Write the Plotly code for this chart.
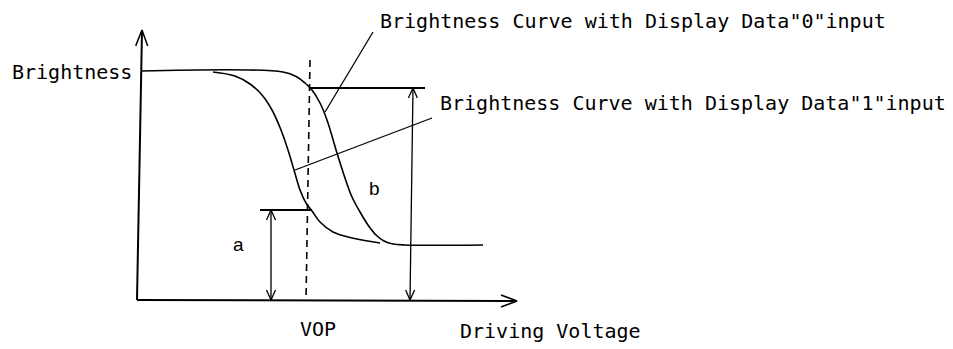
import plotly.graph_objects as go
import numpy as np

# diagram units: x to the right, y downward (0..953, 0..349)
curve0_x = [141, 283, 297, 305, 312, 320, 327, 337, 345, 352, 360, 368, 376, 384, 393, 405, 483]
curve0_y = [71, 72, 77, 83, 90, 103, 120, 153, 178, 197, 212, 225, 235, 241, 244, 245, 245]

curve1_x = [213, 235, 250, 262, 272, 281, 288, 294, 300, 306, 312, 320, 333, 352, 380]
curve1_y = [72, 76, 84, 95, 110, 130, 150, 170, 190, 203, 211, 222, 232, 238, 243]

yaxis_line = [(137, 300), (142, 30)]
xaxis_line = [(137, 300), (517, 301)]
vop_line = [(310, 60), (306, 300)]
level_b = [(310, 88), (425, 88)]
level_a = [(260, 210), (312, 210)]
arrow_a = [(271, 210), (271, 300)]
arrow_b = [(413, 88), (410, 300)]
leader0 = [(325, 112), (373, 32)]
leader1 = [(295, 170), (432, 118)]

labels = [
    ('Brightness', 133, 72, 'right'),
    ('Brightness Curve with Display Data"0"input', 379, 20.5, 'left'),
    ('Brightness Curve with Display Data"1"input', 439, 103, 'left'),
    ('VOP', 318, 329, 'center'),
    ('Driving Voltage', 459, 331, 'left'),
]
letters = [('a', 238, 244), ('b', 374, 188)]

PAGE_PAD = 8  # default body margin of the html page


def head(tip, tail, size=10, half=4.5):
    t = np.array(tip, float)
    d = np.array(tail, float) - t
    d /= np.linalg.norm(d)
    n = np.array([-d[1], d[0]])
    p1 = t + size * d + half * n
    p2 = t + size * d - half * n
    return [p1[0], t[0], p2[0], None], [p1[1], t[1], p2[1], None]


def seg(pts):
    return [p[0] for p in pts] + [None], [p[1] for p in pts] + [None]


def main():
    fig = go.Figure()
    black = 'black'

    # axes
    for pts in (yaxis_line, xaxis_line):
        x, y = seg(pts)
        fig.add_trace(go.Scatter(x=x, y=y, mode='lines', line=dict(color=black, width=2)))
    hx, hy = [], []
    for tip, tail in [(yaxis_line[1], yaxis_line[0]), (xaxis_line[1], xaxis_line[0])]:
        a, b = head(tip, tail, size=16, half=6)
        hx += a
        hy += b
    fig.add_trace(go.Scatter(x=hx, y=hy, mode='lines', line=dict(color=black, width=1.5)))

    # curves
    for cx, cy in [(curve0_x, curve0_y), (curve1_x, curve1_y)]:
        fig.add_trace(go.Scatter(x=cx, y=cy, mode='lines', line_shape='spline',
                                 line=dict(color=black, width=1.6)))

    # level lines
    for pts in (level_a, level_b):
        x, y = seg(pts)
        fig.add_trace(go.Scatter(x=x, y=y, mode='lines', line=dict(color=black, width=2)))

    # VOP dashed
    x, y = seg(vop_line)
    fig.add_trace(go.Scatter(x=x, y=y, mode='lines',
                             line=dict(color=black, width=1.6, dash='7px,5px')))

    # double arrows a, b and leader lines
    lx, ly = [], []
    for pts in (arrow_a, arrow_b, leader0, leader1):
        x, y = seg(pts)
        lx += x
        ly += y
    for pts in (arrow_a, arrow_b):
        for tip, tail in [(pts[0], pts[1]), (pts[1], pts[0])]:
            a, b = head(tip, tail)
            lx += a
            ly += b
    fig.add_trace(go.Scatter(x=lx, y=ly, mode='lines', line=dict(color=black, width=1.3)))

    for text, x, y, anchor in labels:
        fig.add_annotation(x=x, y=y, text=text, showarrow=False, xanchor=anchor,
                           yanchor='middle', borderpad=0,
                           font=dict(family='DejaVu Sans Mono', size=20, color=black))
    for text, x, y in letters:
        fig.add_annotation(x=x, y=y, text=text, showarrow=False,
                           font=dict(family='Liberation Sans', size=19, color=black))

    fig.update_layout(
        width=953 - PAGE_PAD, height=349 - PAGE_PAD,
        margin=dict(l=0, r=0, t=0, b=0),
        showlegend=False,
        plot_bgcolor='white', paper_bgcolor='white',
        xaxis=dict(range=[PAGE_PAD, 953], visible=False, fixedrange=True),
        yaxis=dict(range=[349, PAGE_PAD], visible=False, fixedrange=True),
    )
    fig.write_html('out.html')


if __name__ == '__main__':
    main()
